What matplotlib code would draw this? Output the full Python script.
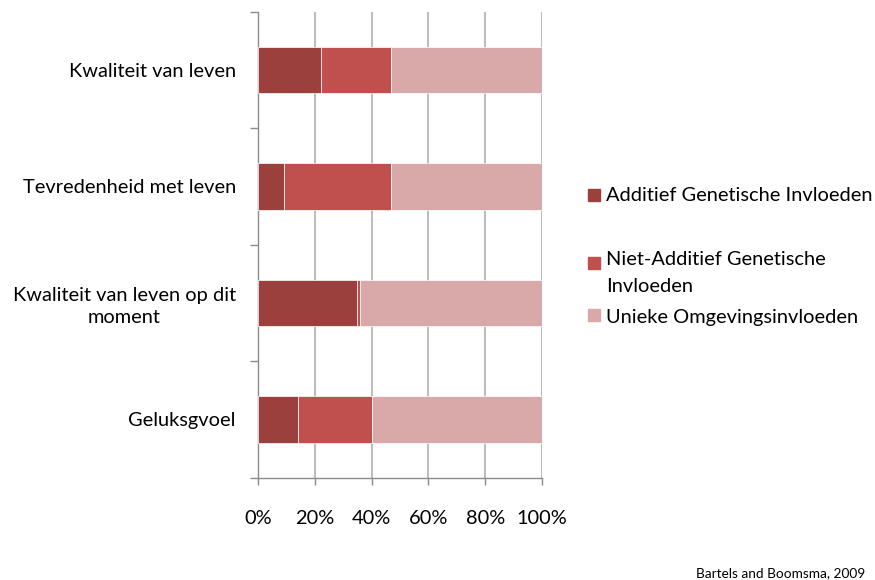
import numpy as np
import matplotlib.pyplot as plt
from matplotlib.patches import Rectangle

plt.rcParams['font.family'] = ['Lato', 'DejaVu Sans']

categories = ['Kwaliteit van leven', 'Tevredenheid met leven',
              'Kwaliteit van leven op dit\nmoment', 'Geluksgvoel']
additief = [22, 9, 35, 14]
niet_additief = [25, 38, 1, 26]
uniek = [53, 53, 64, 60]
series = ['Additief Genetische Invloeden',
          'Niet-Additief Genetische\nInvloeden',
          'Unieke Omgevingsinvloeden']
xticks = [0, 20, 40, 60, 80, 100]

colors = ['#9C403E', '#C0504D', '#D9A8A8']
grid_c = '#BDBDBD'
fs = 14.4

fig = plt.figure(figsize=[8.75, 5.8], dpi=100)
ax = fig.add_axes([0.2949, 0.1764, 0.3245, 0.8034])

y = np.arange(len(categories))[::-1]
left = np.zeros(len(categories))
for vals, c in zip([additief, niet_additief, uniek], colors):
    ax.barh(y, vals, left=left, height=0.4, color=c, edgecolor='white',
            linewidth=0.5, zorder=3)
    left = left + np.array(vals)

ax.set_xlim(0, 100)
ax.set_ylim(-0.5, len(categories) - 0.5)
ax.set_xticks(xticks)
ax.set_xticklabels(['%d%%' % v for v in xticks], fontsize=fs)
for v in xticks[1:]:
    ax.axvline(v, color=grid_c, lw=1.5, zorder=1)

ax.set_yticks(y)
ax.set_yticklabels(categories, fontsize=fs, linespacing=1.35)
for lab in ax.get_yticklabels():
    lab.set_multialignment('center')
ax.set_yticks(np.arange(-0.5, len(categories)), minor=True)
ax.tick_params(axis='y', which='major', length=0, pad=16)
ax.tick_params(axis='y', which='minor', length=6, color='#8C8C8C', width=1)
ax.tick_params(axis='x', length=5, color='#8C8C8C', width=1, pad=18)

for s in ['top', 'right']:
    ax.spines[s].set_visible(False)
for s in ['left', 'bottom']:
    ax.spines[s].set_color('#8C8C8C')
    ax.spines[s].set_linewidth(1)

# legend drawn by hand to keep the uneven spacing
W, H = 875.0, 580.0
entries = [(195, [195]), (263, [259, 286]), (315, [318])]
for (sq_y, text_ys), lab, c in zip(entries, series, colors):
    fig.patches.append(Rectangle((588 / W, 1 - (sq_y + 6) / H), 12 / W, 12 / H,
                                 transform=fig.transFigure, color=c))
    for line, ty in zip(lab.split('\n'), text_ys):
        fig.text(606 / W, 1 - ty / H, line, fontsize=fs, va='center', ha='left')

fig.text(865 / W, 1 - 573 / H, 'Bartels and Boomsma, 2009', fontsize=9.8,
         ha='right', va='center')

fig.savefig('out.png', dpi=100)
